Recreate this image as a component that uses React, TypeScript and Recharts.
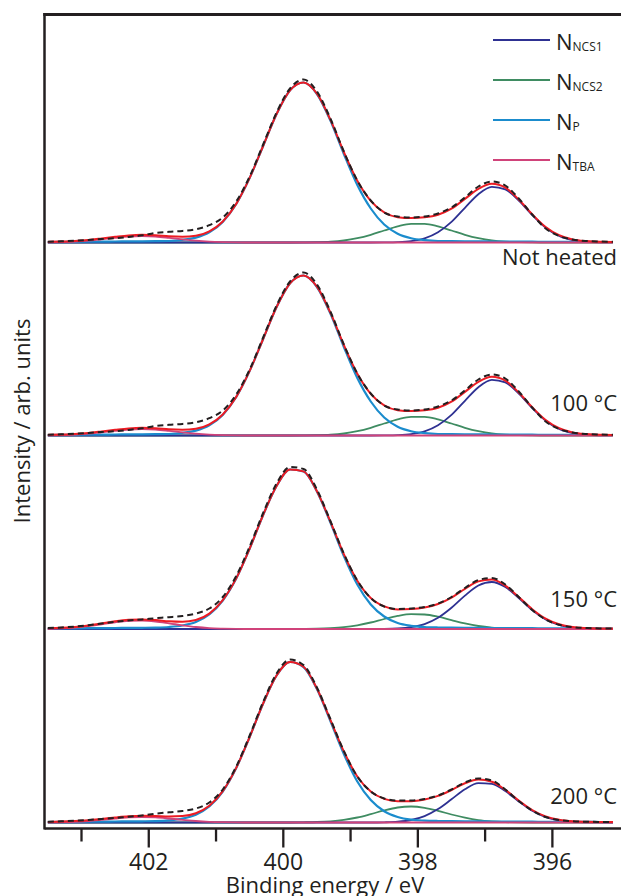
import React from "react";
import { LineChart, Line, XAxis, YAxis, Customized } from "recharts";

const INK = "#231f20";
const C_NCS1 = "#2e3192";
const C_NCS2 = "#3f8c62";
const C_P = "#1b8ccd";
const C_TBA = "#d0437a";
const C_FIT = "#ec1c24";
const FONT = "'Open Sans', sans-serif";

// binding energy grid (eV), high to low
const ENERGY = [
  403.5, 403.3, 403.1, 402.9, 402.7, 402.5, 402.3, 402.1, 401.9, 401.7, 401.5,
  401.3, 401.1, 400.9, 400.7, 400.5, 400.3, 400.1, 399.9, 399.7, 399.5, 399.3,
  399.1, 398.9, 398.7, 398.5, 398.3, 398.1, 397.9, 397.7, 397.5, 397.3, 397.1,
  396.9, 396.7, 396.5, 396.3, 396.1, 395.9, 395.7, 395.5, 395.3, 395.1,
];

const MAJOR_TICKS = [403, 402, 401, 400, 399, 398, 397, 396];

// not heated
const RT_NP = [0.5, 0.6, 0.7, 0.8, 0.9, 1.0, 1.1, 1.2, 1.3, 1.5, 2.6, 4.9, 10.2, 20.6, 38.5, 64.6, 96.5, 128.5, 152.2, 160, 148.5, 122, 88.5, 57.5, 34, 18, 8.8, 4.3, 2.4, 1.5, 1.3, 1.2, 1.1, 1.0, 0.9, 0.8, 0.8, 0.7, 0.7, 0.6, 0.6, 0.5, 0.5];
const RT_NCS1 = [0, 0, 0, 0, 0, 0, 0, 0, 0, 0, 0, 0, 0, 0, 0, 0, 0, 0, 0, 0, 0, 0, 0, 0, 0, 0.1, 0.4, 1.4, 4.1, 10.2, 20.6, 34.7, 48.3, 55.7, 53.1, 41.9, 27.4, 14.8, 6.6, 2.5, 0.8, 0.2, 0.1];
const RT_NCS2 = [0, 0, 0, 0, 0, 0, 0, 0, 0, 0, 0, 0, 0, 0, 0, 0, 0, 0, 0, 0.1, 0.3, 0.8, 2.0, 4.3, 7.7, 12.0, 16.1, 18.7, 18.7, 16.1, 12.0, 7.7, 4.3, 2.0, 0.8, 0.3, 0.1, 0, 0, 0, 0, 0, 0];
const RT_TBA = [0.1, 0.4, 0.9, 1.8, 3.2, 4.7, 6.0, 6.5, 6.0, 4.7, 3.2, 1.8, 0.9, 0.4, 0.1, 0, 0, 0, 0, 0, 0, 0, 0, 0, 0, 0, 0, 0, 0, 0, 0, 0, 0, 0, 0, 0, 0, 0, 0, 0, 0, 0, 0];
const RT_RAW = [0.8, 1.2, 1.8, 2.6, 3.5, 4.3, 5.6, 7.2, 9.6, 10.7, 11.6, 13.3, 17.3, 25, 41, 66, 98, 130, 154, 163, 151, 124, 91, 62, 42, 30, 26, 25, 26, 29, 35, 45, 56, 61, 57, 44, 28, 14, 6.5, 3, 1.5, 1, 0.8];

// 100 °C
const T100_NP = [0.5, 0.6, 0.7, 0.8, 0.9, 1.0, 1.1, 1.2, 1.3, 1.5, 2.6, 4.9, 10.2, 20.6, 38.5, 64.6, 96.5, 128.5, 152.2, 160, 148.5, 122, 88.5, 57.5, 34, 18, 8.8, 4.3, 2.4, 1.5, 1.3, 1.2, 1.1, 1.0, 0.9, 0.8, 0.8, 0.7, 0.7, 0.6, 0.6, 0.5, 0.5];
const T100_NCS1 = [0, 0, 0, 0, 0, 0, 0, 0, 0, 0, 0, 0, 0, 0, 0, 0, 0, 0, 0, 0, 0, 0, 0, 0, 0, 0.1, 0.4, 1.4, 4.1, 10.2, 20.6, 34.7, 48.3, 55.7, 53.1, 41.9, 27.4, 14.8, 6.6, 2.5, 0.8, 0.2, 0.1];
const T100_NCS2 = [0, 0, 0, 0, 0, 0, 0, 0, 0, 0, 0, 0, 0, 0, 0, 0, 0, 0, 0, 0.1, 0.3, 0.8, 2.0, 4.3, 7.7, 12.0, 16.1, 18.7, 18.7, 16.1, 12.0, 7.7, 4.3, 2.0, 0.8, 0.3, 0.1, 0, 0, 0, 0, 0, 0];
const T100_TBA = [0.1, 0.4, 0.9, 1.8, 3.2, 4.7, 6.0, 6.5, 6.0, 4.7, 3.2, 1.8, 0.9, 0.4, 0.1, 0, 0, 0, 0, 0, 0, 0, 0, 0, 0, 0, 0, 0, 0, 0, 0, 0, 0, 0, 0, 0, 0, 0, 0, 0, 0, 0, 0];
const T100_RAW = [0.8, 1.2, 1.8, 2.6, 3.5, 4.3, 5.6, 7.2, 9.6, 10.7, 11.6, 13.3, 17.3, 25, 41, 66, 98, 130, 154, 163, 151, 124, 91, 62, 42, 30, 26, 25, 26, 29, 35, 45, 56, 61, 57, 44, 28, 14, 6.5, 3, 1.5, 1, 0.8];

// 150 °C
const T150_NP = [0.5, 0.6, 0.7, 0.8, 0.9, 1.0, 1.1, 1.2, 1.4, 2.0, 3.5, 7, 14.5, 28.5, 50.5, 80.5, 114, 143, 159.5, 157.5, 137.5, 106.5, 73, 44.5, 24.5, 12.5, 6.0, 3.2, 2.0, 1.5, 1.3, 1.2, 1.1, 1.0, 0.9, 0.8, 0.8, 0.7, 0.7, 0.6, 0.6, 0.5, 0.5];
const T150_NCS1 = [0, 0, 0, 0, 0, 0, 0, 0, 0, 0, 0, 0, 0, 0, 0, 0, 0, 0, 0, 0, 0, 0, 0, 0, 0, 0.1, 0.5, 1.8, 4.9, 11.2, 21.2, 33.4, 43.5, 47, 41.9, 31.0, 18.9, 9.6, 4.0, 1.4, 0.4, 0.1, 0];
const T150_NCS2 = [0, 0, 0, 0, 0, 0, 0, 0, 0, 0, 0, 0, 0, 0, 0, 0, 0, 0, 0, 0.1, 0.3, 0.8, 1.8, 3.7, 6.5, 10.0, 13.1, 14.9, 14.5, 12.3, 8.9, 5.6, 3.0, 1.4, 0.6, 0.2, 0.1, 0, 0, 0, 0, 0, 0];
const T150_TBA = [0.2, 0.6, 1.4, 2.8, 4.6, 6.7, 8.1, 8.4, 7.5, 5.7, 3.7, 2.0, 0.9, 0.4, 0.1, 0, 0, 0, 0, 0, 0, 0, 0, 0, 0, 0, 0, 0, 0, 0, 0, 0, 0, 0, 0, 0, 0, 0, 0, 0, 0, 0, 0];
const T150_RAW = [0.9, 1.5, 2.4, 3.8, 5.4, 7.2, 8.6, 9.6, 10.8, 11.8, 13.0, 15.4, 20.5, 32, 53, 82.5, 116, 145.5, 162, 160, 139.5, 108, 75.5, 48.5, 31, 22.5, 20, 20.5, 22, 25.5, 32, 41, 49, 51, 44.5, 32, 19, 9.5, 4.2, 1.8, 1.0, 0.6, 0.6];

// 200 °C
const T200_NP = [0.5, 0.6, 0.7, 0.8, 0.9, 1.0, 1.1, 1.2, 1.4, 2.1, 3.8, 7.8, 16, 31, 54.5, 85.5, 119, 147, 160.5, 155.5, 133.5, 101.5, 68.5, 41, 22.5, 11.3, 5.5, 2.8, 1.9, 1.5, 1.3, 1.2, 1.1, 1.0, 0.9, 0.8, 0.8, 0.7, 0.7, 0.6, 0.6, 0.5, 0.5];
const T200_NCS1 = [0, 0, 0, 0, 0, 0, 0, 0, 0, 0, 0, 0, 0, 0, 0, 0, 0, 0, 0, 0, 0, 0, 0, 0, 0, 0.2, 0.8, 2.5, 6.4, 13.4, 23.2, 33.2, 39.4, 38.7, 31.4, 21.1, 11.7, 5.4, 2.1, 0.7, 0.2, 0.1, 0];
const T200_NCS2 = [0, 0, 0, 0, 0, 0, 0, 0, 0, 0, 0, 0, 0, 0, 0, 0, 0, 0, 0, 0.2, 0.5, 1.2, 2.6, 5.0, 8.4, 12.1, 15.0, 16, 14.7, 11.7, 8.0, 4.8, 2.4, 1.1, 0.4, 0.1, 0, 0, 0, 0, 0, 0, 0];
const T200_TBA = [0.1, 0.3, 0.7, 1.5, 2.7, 4.0, 5.1, 5.5, 5.1, 4.0, 2.7, 1.5, 0.7, 0.3, 0.1, 0, 0, 0, 0, 0, 0, 0, 0, 0, 0, 0, 0, 0, 0, 0, 0, 0, 0, 0, 0, 0, 0, 0, 0, 0, 0, 0, 0];
const T200_RAW = [0.8, 1.2, 1.8, 2.6, 3.5, 4.5, 5.8, 7.0, 8.8, 10.2, 11.5, 14, 20, 33, 56, 87, 120.5, 149, 163, 157.5, 135, 103.5, 71.5, 46, 31, 24, 22, 22, 23.5, 27, 33, 40, 44, 42, 33, 21.5, 12, 5.5, 2.5, 1.2, 0.8, 0.6, 0.5];

const PANEL_LABELS = ["Not heated", "100 °C", "150 °C", "200 °C"];
const PANEL_OFFSETS = [580, 387, 193.5, 0];

const PANELS = [
  { np: RT_NP, ncs1: RT_NCS1, ncs2: RT_NCS2, tba: RT_TBA, raw: RT_RAW },
  { np: T100_NP, ncs1: T100_NCS1, ncs2: T100_NCS2, tba: T100_TBA, raw: T100_RAW },
  { np: T150_NP, ncs1: T150_NCS1, ncs2: T150_NCS2, tba: T150_TBA, raw: T150_RAW },
  { np: T200_NP, ncs1: T200_NCS1, ncs2: T200_NCS2, tba: T200_TBA, raw: T200_RAW },
];

// stack each spectrum on its own baseline; the fit envelope is the sum of the components
const stacked = PANELS.map((p, k) => {
  const off = PANEL_OFFSETS[k];
  return ENERGY.map((e, i) => ({
    e,
    np: p.np[i] + off,
    ncs1: p.ncs1[i] + off,
    ncs2: p.ncs2[i] + off,
    tba: p.tba[i] + off,
    fit: p.np[i] + p.ncs1[i] + p.ncs2[i] + p.tba[i] + off,
    raw: p.raw[i] + off,
  }));
});

const LEGEND = [
  { sub: "NCS1", color: C_NCS1 },
  { sub: "NCS2", color: C_NCS2 },
  { sub: "P", color: C_P },
  { sub: "TBA", color: C_TBA },
];

const LABEL_Y = [265, 411, 606.5, 804];

function EnergyTick({ x, y, payload }: any) {
  const v = payload.value;
  const major = Math.round(v) % 2 === 0;
  return (
    <g>
      <line x1={x} x2={x} y1={y} y2={y + (major ? 19 : 13)} stroke={INK} strokeWidth={2.3} />
      {major && (
        <text x={x} y={y + 41.5} textAnchor="middle" fontSize={23} fill={INK} fontFamily={FONT}>
          {v}
        </text>
      )}
    </g>
  );
}

function Annotations() {
  return (
    <g fontFamily={FONT} fill={INK}>
      {/* left and top frame edges */}
      <line x1={44.5} x2={44.5} y1={13} y2={829.5} stroke={INK} strokeWidth={2.5} />
      <line x1={43.3} x2={621} y1={14.5} y2={14.5} stroke={INK} strokeWidth={3} />
      {LEGEND.map((l, i) => (
        <g key={l.sub}>
          <line x1={493} x2={550} y1={40 + i * 40} y2={40 + i * 40} stroke={l.color} strokeWidth={2} />
          <text x={556} y={49.5 + i * 40} fontSize={22}>
            N
            <tspan fontSize={12} dy={1.5}>
              {l.sub}
            </tspan>
          </text>
        </g>
      ))}
      {PANEL_LABELS.map((t, i) => (
        <text key={t} x={617} y={LABEL_Y[i]} textAnchor="end" fontSize={22}>
          {t}
        </text>
      ))}
      <text x={325} y={892.5} textAnchor="middle" fontSize={22}>
        Binding energy / eV
      </text>
      <text transform="translate(30, 421) rotate(-90)" textAnchor="middle" fontSize={22}>
        Intensity / arb. units
      </text>
    </g>
  );
}

export default function App() {
  return (
    <div style={{ position: "absolute", left: 0, top: 0, width: 621, height: 896, background: "#fff" }}>
      <LineChart width={621} height={896} margin={{ top: 14.5, right: 0, bottom: 27.5, left: 44.5 }}>
        <XAxis
          type="number"
          dataKey="e"
          domain={[394.98, 403.55]}
          reversed
          allowDataOverflow
          ticks={MAJOR_TICKS}
          tick={<EnergyTick />}
          tickSize={0}
          tickMargin={0}
          tickLine={false}
          height={40}
          axisLine={{ stroke: INK, strokeWidth: 2.5 }}
        />
        <YAxis type="number" domain={[-6, 808]} allowDataOverflow hide />
        {stacked.map((rows, k) => (
          <React.Fragment key={k}>
            <Line data={rows} dataKey="ncs2" type="monotone" stroke={C_NCS2} strokeWidth={1.8} dot={false} isAnimationActive={false} />
            <Line data={rows} dataKey="ncs1" type="monotone" stroke={C_NCS1} strokeWidth={1.8} dot={false} isAnimationActive={false} />
            <Line data={rows} dataKey="np" type="monotone" stroke={C_P} strokeWidth={2.2} dot={false} isAnimationActive={false} />
            <Line data={rows} dataKey="tba" type="monotone" stroke={C_TBA} strokeWidth={1.8} dot={false} isAnimationActive={false} />
            <Line data={rows} dataKey="fit" type="monotone" stroke={C_FIT} strokeWidth={2} dot={false} isAnimationActive={false} />
            <Line data={rows} dataKey="raw" type="monotone" stroke={INK} strokeWidth={2} strokeDasharray="6 4" dot={false} isAnimationActive={false} />
          </React.Fragment>
        ))}
        <Customized component={<Annotations />} />
      </LineChart>
    </div>
  );
}
